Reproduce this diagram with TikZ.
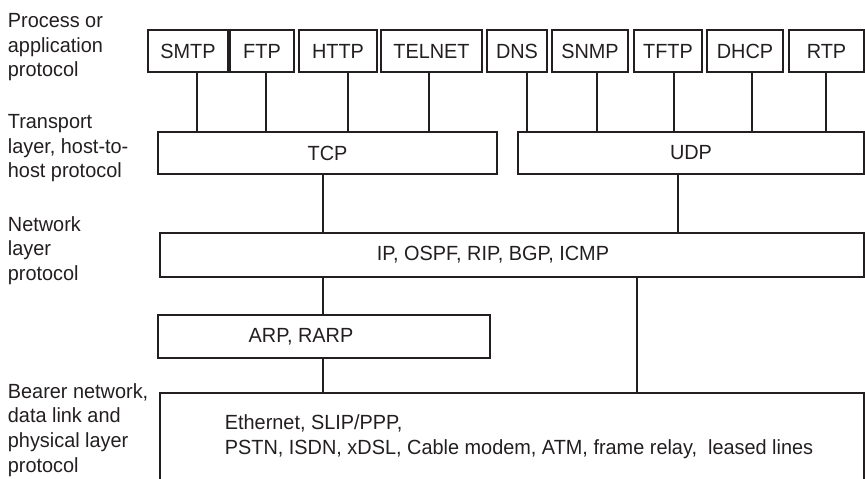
\documentclass[tikz,border=0pt]{standalone}
\usepackage{fontspec}
\setmainfont{Liberation Sans}[FakeStretch=0.97]
\definecolor{lineInk}{RGB}{35,31,32}

\begin{document}
\begin{tikzpicture}[x=1pt, y=-1pt, line width=1.8pt,
  every node/.style={font=\fontsize{20.5}{24.7}\selectfont, text=lineInk},
  box/.style={draw=lineInk, rectangle, inner sep=0pt},
  appbox/.style={box, minimum height=42pt},
  layerlbl/.style={anchor=north west, align=left, inner sep=0pt}]
\useasboundingbox (0,0) rectangle (865,479);
%% ---- layer names ----
\node[layerlbl] (lblapp)  at (7,12.5)  {Process or\\application\\protocol};
\node[layerlbl] (lbltrn)  at (7,113.5) {Transport\\layer, host-to-\\host protocol};
\node[layerlbl] (lblnet)  at (7,215.5) {Network\\layer\\protocol};
\node[layerlbl] (lblbear) at (7,382.5) {Bearer network,\\data link and\\physical layer\\protocol};
%% ---- application protocols ----
\foreach \n/\cx/\w/\txt in {smtp/188/80/SMTP, ftp/262/64/FTP, http/338/78/HTTP,
    telnet/431.5/101/TELNET, dns/517/60/DNS, snmp/590/76/SNMP,
    tftp/668/68/TFTP, dhcp/745/76/DHCP, rtp/826.5/75/RTP}
  \node[appbox, minimum width=\w pt] (\n) at (\cx,51) {\txt};
%% ---- transport ----
\node[box, minimum width=339pt, minimum height=42pt] (tcp) at (327.5,153) {TCP};
\node[box, minimum width=346pt, minimum height=42pt] (udp) at (691,153) {UDP};
%% ---- network ----
\node[box, minimum width=704pt, minimum height=44pt] (ip) at (512,255)
  {\hspace*{-38pt}IP, OSPF, RIP, BGP, ICMP};
\node[box, minimum width=332pt, minimum height=43pt] (arp) at (324,336.5)
  {\hspace*{-46pt}ARP, RARP};
%% ---- bearer ----
\node[box, align=left, minimum width=704pt, minimum height=87pt] (bearer) at (512,436.5)
  {\hspace*{14pt}Ethernet, SLIP/PPP,\\\hspace*{14pt}PSTN, ISDN, xDSL, Cable modem, ATM, frame relay,\ \ leased lines};
%% ---- connectors ----
\foreach \n/\x in {smtp/197, ftp/266, http/348, telnet/429}
  \draw[lineInk] (\n.south -| \x,0) -- (tcp.north -| \x,0);
\foreach \n/\x in {dns/527, snmp/597, tftp/674, dhcp/752, rtp/826}
  \draw[lineInk] (\n.south -| \x,0) -- (udp.north -| \x,0);
\draw[lineInk] (tcp.south -| 323,0) -- (ip.north -| 323,0);
\draw[lineInk] (udp.south -| 678,0) -- (ip.north -| 678,0);
\draw[lineInk] (ip.south -| 323,0) -- (arp.north -| 323,0);
\draw[lineInk] (arp.south -| 323,0) -- (bearer.north -| 323,0);
\draw[lineInk] (ip.south -| 637,0) -- (bearer.north -| 637,0);
\end{tikzpicture}
\end{document}
